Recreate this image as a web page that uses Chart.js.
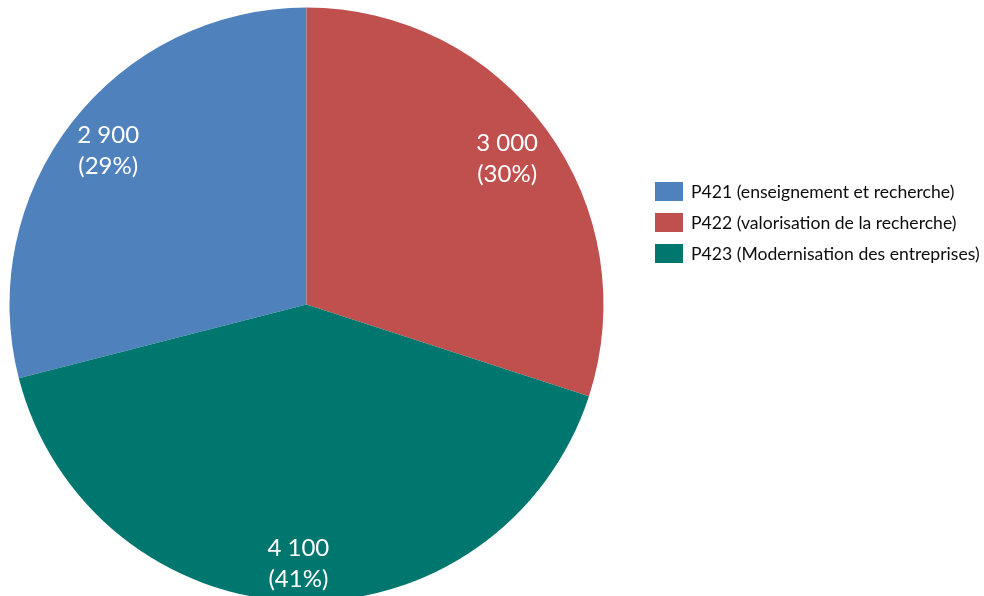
<!DOCTYPE html>
<html lang="fr">
<head>
<meta charset="utf-8">
<title>Répartition par programme</title>
<script src="https://cdn.jsdelivr.net/npm/chart.js@4/dist/chart.umd.min.js"></script>
<style>
  html, body { margin: 0; padding: 0; background: #ffffff; overflow: hidden; }
  #wrap { position: relative; width: 984px; height: 596px; }
</style>
</head>
<body>
<div id="wrap"><canvas id="pie"></canvas></div>
<script>
// Programmes and amounts
const programmes = [
  'P421 (enseignement et recherche)',
  'P422 (valorisation de la recherche)',
  'P423 (Modernisation des entreprises)'
];
const montants = [2900, 3000, 4100];
const parts = ['29%', '30%', '41%'];
const couleurs = ['#4F81BD', '#C0504D', '#00776E'];

const FONT = 'Lato, "Open Sans", sans-serif';
// distance of each value label from the centre, as a fraction of the radius
const LABEL_RADIUS = [0.845, 0.835, 0.875];

// "2900" -> "2 900"
function fmt(v) {
  return String(v).replace(/\B(?=(\d{3})+(?!\d))/g, ' ');
}

const total = montants.reduce((a, b) => a + b, 0);

// Value + share written inside each slice
const sliceLabels = {
  id: 'sliceLabels',
  afterDatasetsDraw(chart) {
    const ctx = chart.ctx;
    const meta = chart.getDatasetMeta(0);
    ctx.save();
    ctx.fillStyle = '#ffffff';
    ctx.font = '24px ' + FONT;
    ctx.textAlign = 'center';
    ctx.textBaseline = 'middle';
    meta.data.forEach((arc, i) => {
      const p = arc.getProps(['x', 'y', 'startAngle', 'endAngle', 'outerRadius'], true);
      const mid = (p.startAngle + p.endAngle) / 2;
      const r = p.outerRadius * LABEL_RADIUS[i];
      const x = p.x + Math.cos(mid) * r;
      const y = p.y + Math.sin(mid) * r;
      ctx.fillText(fmt(montants[i]), x, y - 15.5);
      ctx.fillText('(' + parts[i] + ')', x, y + 15.5);
    });
    ctx.restore();
  }
};

// Legend block to the right of the pie
const sideLegend = {
  id: 'sideLegend',
  afterDraw(chart) {
    const ctx = chart.ctx;
    const x0 = 655, y0 = 182, step = 31, boxW = 28, boxH = 19;
    ctx.save();
    ctx.font = '17.6px ' + FONT;
    ctx.textAlign = 'left';
    ctx.textBaseline = 'middle';
    chart.data.labels.forEach((lab, i) => {
      const y = y0 + i * step;
      ctx.fillStyle = chart.data.datasets[0].backgroundColor[i];
      ctx.fillRect(x0, y, boxW, boxH);
      ctx.fillStyle = '#0d0d0d';
      ctx.fillText(lab, x0 + 36, y + boxH / 2 + 0.5);
    });
    ctx.restore();
  }
};

new Chart(document.getElementById('pie'), {
  type: 'pie',
  data: {
    labels: programmes,
    datasets: [{
      data: montants,
      backgroundColor: couleurs,
      borderWidth: 0,
      radius: 297
    }]
  },
  options: {
    responsive: true,
    maintainAspectRatio: false,
    animation: false,
    rotation: 360 * (1 - montants[0] / total),
    layout: { padding: { left: 0, right: 371, top: 13, bottom: 0 } },
    plugins: {
      legend: { display: false },
      tooltip: { enabled: false }
    }
  },
  plugins: [sliceLabels, sideLegend]
});
</script>
</body>
</html>
